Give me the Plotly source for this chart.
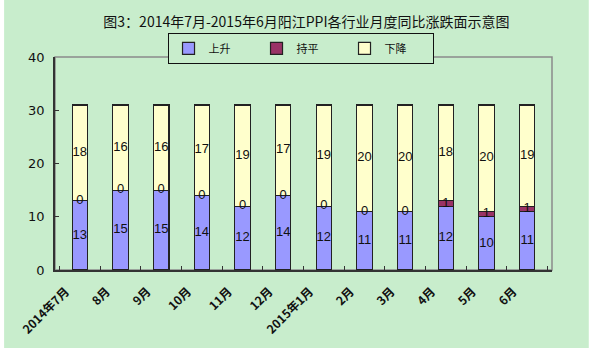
import plotly.graph_objects as go

categories = ["2014年7月", "8月", "9月", "10月", "11月", "12月", "2015年1月",
              "2月", "3月", "4月", "5月", "6月"]
up = [13, 15, 15, 14, 12, 14, 12, 11, 11, 12, 10, 11]
flat = [0, 0, 0, 0, 0, 0, 0, 0, 0, 1, 1, 1]
down = [18, 16, 16, 17, 19, 17, 19, 20, 20, 18, 20, 19]
series_names = ["上升", "持平", "下降"]
colors = ["#9999FF", "#993366", "#FFFFCC"]

GREEN = "#C8EDCC"
CJK = "Noto Sans CJK SC, SimSun, sans-serif"
NUM = "Liberation Sans, DejaVu Sans, sans-serif"

fig = go.Figure()
for name, vals, col in zip(series_names, [up, flat, down], colors):
    fig.add_trace(go.Bar(
        x=categories, y=vals, name=name,
        marker=dict(color=col, line=dict(color="#222222", width=1.2)),
        hoverinfo="skip",
    ))

# data labels at segment centres
label_y_up = [u / 2 for u in up]
label_y_flat = [u + f / 2 for u, f in zip(up, flat)]
label_y_down = [u + f + d / 2 for u, f, d in zip(up, flat, down)]
for ys, vals in [(label_y_up, up), (label_y_flat, flat), (label_y_down, down)]:
    fig.add_trace(go.Scatter(
        x=categories, y=ys, mode="text", text=[str(v) for v in vals],
        textfont=dict(family=NUM, size=13, color="#111111"),
        showlegend=False, hoverinfo="skip",
    ))

# green background and plot frame
fig.add_shape(type="rect", xref="paper", yref="paper",
              x0=-0.1024, x1=1.074, y0=-0.366, y1=1.268,
              fillcolor=GREEN, line=dict(width=0), layer="below")
fig.add_shape(type="rect", xref="paper", yref="paper",
              x0=0, x1=1, y0=0, y1=1,
              fillcolor="rgba(0,0,0,0)", line=dict(color="#8a8a8a", width=1.5),
              layer="below")

fig.update_layout(
    width=595, height=351,
    margin=dict(l=55, r=43, t=57, b=81),
    paper_bgcolor="white",
    plot_bgcolor="rgba(0,0,0,0)",
    barmode="stack",
    bargap=0.62,
    title=dict(text="图3：2014年7月-2015年6月阳江PPI各行业月度同比涨跌面示意图",
               x=0.515, xanchor="center", y=0.937, yanchor="middle",
               font=dict(family=CJK, size=14, color="#111111")),
    legend=dict(orientation="h", x=0.494, xanchor="center", y=1.113, yanchor="top",
                bgcolor=GREEN, bordercolor="#111111", borderwidth=1,
                traceorder="normal",
                font=dict(family=CJK, size=11, color="#111111"),
                entrywidth=43, entrywidthmode="pixels",
                itemwidth=30, tracegroupgap=0),
    font=dict(family=CJK, color="#111111"),
    showlegend=True,
)
fig.update_xaxes(
    type="category", showline=True, linecolor="#333333", linewidth=1.5,
    ticks="inside", ticklen=4, tickcolor="#333333", tickson="boundaries",
    tickangle=-45, showgrid=False, ticklabelshift=-14, ticklabelstandoff=8,
    tickfont=dict(family=CJK, size=12, color="#111111", weight="bold"),
)
fig.update_yaxes(
    range=[0, 40], dtick=10, showline=True, linecolor="#333333", linewidth=1.5,
    ticks="inside", ticklen=4, tickcolor="#333333", showgrid=False,
    zeroline=False, ticklabelstandoff=6,
    tickfont=dict(family="DejaVu Sans, sans-serif", size=13, color="#111111"),
)

fig.write_html("out.html")
